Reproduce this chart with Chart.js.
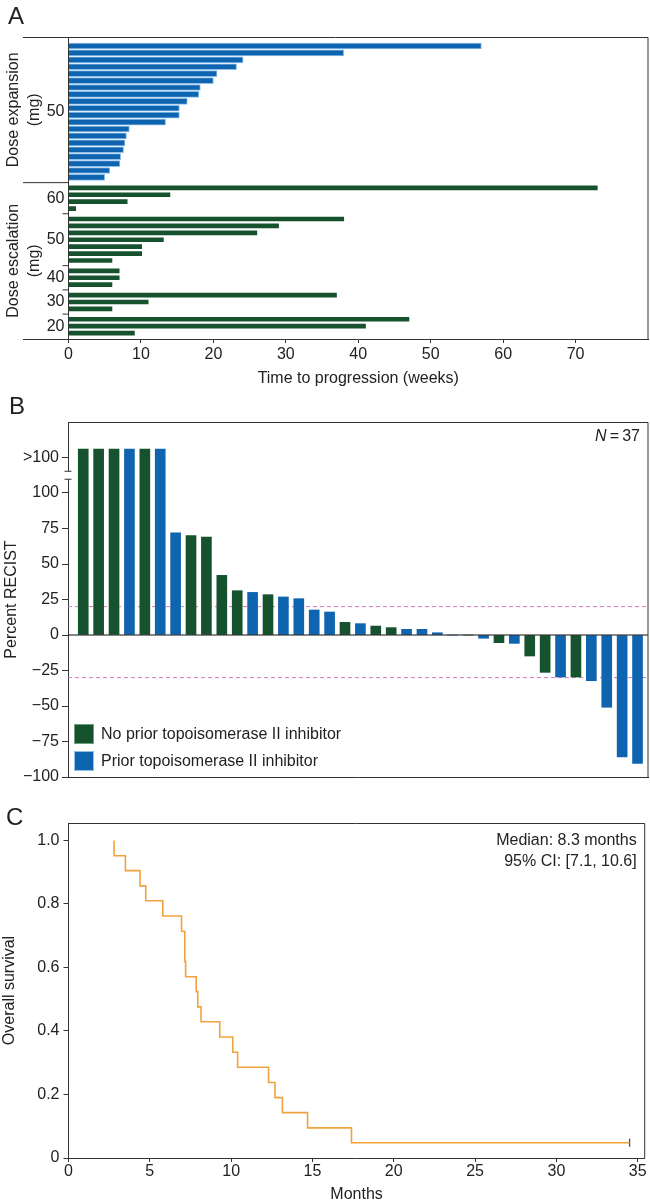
<!DOCTYPE html>
<html>
<head>
<meta charset="utf-8">
<title>Time to progression, RECIST change and overall survival</title>
<script src="https://cdn.jsdelivr.net/npm/chart.js@4.4.1/dist/chart.umd.min.js"></script>
<style>
  html, body { margin: 0; padding: 0; background: #fff; }
  body { position: relative; width: 650px; height: 1204px; overflow: hidden;
         font-family: "Liberation Sans", Arial, Helvetica, sans-serif; color: #222; }
  .panel { position: absolute; left: 0; }
  canvas { display: block; }
  .letter { position: absolute; font-size: 24px; line-height: 24px; }
</style>
</head>
<body>
<div class="panel" style="top:0"><canvas id="chartA" width="650" height="395"></canvas></div>
<div class="panel" style="top:395px"><canvas id="chartB" width="650" height="400"></canvas></div>
<div class="panel" style="top:795px"><canvas id="chartC" width="650" height="409"></canvas></div>
<div class="letter" style="left:8px;top:4px">A</div>
<div class="letter" style="left:9px;top:394px">B</div>
<div class="letter" style="left:6px;top:805px">C</div>
<script>
// ---- panel A: time to progression (weeks) by dose ----
const expansionDose = 50;
const expansionWeeks = [57, 38, 24.1, 23.2, 20.5, 20, 18.2, 18, 16.4, 15.3, 15.3, 13.4, 8.4, 8, 7.8, 7.6, 7.2, 7.1, 5.7, 5];
const escalationDoses = [60, 50, 40, 30, 20];
const escalationWeeks = [
  [73, 14, 8.1, 1],
  [38, 29, 26, 13.1, 10.1, 10.1, 6],
  [7, 7, 6],
  [37, 11, 6],
  [47, 41, 9.1]
];
const weekTicks = [0, 10, 20, 30, 40, 50, 60, 70];

// ---- panel B: best change in tumour size (percent RECIST) ----
const recistChange = ['>100', '>100', '>100', '>100', '>100', '>100', 72, 70, 69, 42, 31.2, 30, 28.4, 26.8, 25.6, 17.6, 16.2,
  8.9, 8, 6.3, 5.2, 4, 4, 1.6, 0, 0, -2.3, -5.4, -5.9, -14.8, -26.3, -29.6, -29.6, -32.2, -50.9, -85.9, -90.4];
const priorTopo = [0, 0, 0, 1, 0, 1, 1, 0, 0, 0, 0, 1, 0, 1, 1, 1, 1, 0, 1, 0, 0, 1, 1, 1, 1, 0,
  1, 0, 1, 0, 0, 1, 0, 1, 1, 1, 1];
const recistTicks = [-100, -75, -50, -25, 0, 25, 50, 75, 100];
const recistCutoffs = [20, -30];

// ---- panel C: overall survival (Kaplan-Meier) ----
const osMonths = [2.8, 2.8, 3.5, 4.4, 4.75, 5.8, 6.95, 7.15, 7.2, 7.85, 7.95, 8.15, 9.3, 10.1, 10.4, 12.3, 12.7, 13.15, 14.7, 17.4, 34.5];
const osSurvival = [1.0, 0.952, 0.905, 0.857, 0.81, 0.762, 0.714, 0.619, 0.571, 0.524, 0.476, 0.429, 0.381, 0.333, 0.286, 0.238, 0.19, 0.143, 0.095, 0.048, 0.048];
const censorMonths = [34.5];
const censorSurvival = [0.048];
const monthTicks = [0, 5, 10, 15, 20, 25, 30, 35];
const survivalTicks = [0, 0.2, 0.4, 0.6, 0.8, 1.0];

const FONT = '"Liberation Sans", Arial, Helvetica, sans-serif';
const INK = '#222';
const AXIS = '#333';
const BLUE = '#0f64b0', BLUE_EDGE = '#8fc0ea';
const GREEN = '#17522e';
const PINK = '#d67ac4';
const ORANGE = '#f2a23c';

Chart.defaults.font.family = FONT;
Chart.defaults.font.size = 16;
Chart.defaults.color = INK;
Chart.defaults.animation = false;
Chart.defaults.plugins.legend.display = false;
Chart.defaults.plugins.tooltip.enabled = false;

// ================= A =================
// rows are stacked top-down, with a half-row gap between dose groups
const GROUP_GAP = 0.5;
const groupsA = [{ dose: expansionDose, weeks: expansionWeeks, phase: 'expansion' }]
  .concat(escalationDoses.map((d, i) => ({ dose: d, weeks: escalationWeeks[i], phase: 'escalation' })));
const barsA = { expansion: [], escalation: [] };
const centersA = [];
const boundsA = [];
let row = 0;
groupsA.forEach((g, gi) => {
  const first = row + gi * GROUP_GAP;
  g.weeks.forEach((w, k) => barsA[g.phase].push({ x: w, y: first + k }));
  const last = first + g.weeks.length - 1;
  centersA.push({ value: (first + last) / 2, label: String(g.dose) });
  if (gi > 0) boundsA.push(first - (1 + GROUP_GAP) / 2);
  row += g.weeks.length;
});
const lastRowA = row - 1 + (groupsA.length - 1) * GROUP_GAP;

const frameA = {
  id: 'frameA',
  afterDraw(chart) {
    const { ctx, chartArea: a, scales: { y } } = chart;
    const outer = 23;
    const sep = y.getPixelForValue(boundsA[0]);
    ctx.save();
    ctx.strokeStyle = AXIS;
    ctx.lineWidth = 1;
    ctx.beginPath();
    ctx.moveTo(outer, a.top + 0.5); ctx.lineTo(a.right, a.top + 0.5); ctx.lineTo(a.right, a.bottom);
    ctx.moveTo(outer, a.bottom + 0.5); ctx.lineTo(a.left, a.bottom + 0.5);
    ctx.moveTo(outer, sep); ctx.lineTo(a.left, sep);
    boundsA.slice(1).forEach(b => {
      const p = y.getPixelForValue(b);
      ctx.moveTo(a.left - 6, p); ctx.lineTo(a.left, p);
    });
    ctx.stroke();
    ctx.fillStyle = INK;
    ctx.font = '16px ' + FONT;
    ctx.textAlign = 'center';
    ctx.textBaseline = 'middle';
    [[a.top, sep, 'Dose expansion'], [sep, a.bottom, 'Dose escalation']].forEach(([t, b, txt]) => {
      ctx.save();
      ctx.translate(14, (t + b) / 2);
      ctx.rotate(-Math.PI / 2);
      ctx.fillText(txt, 0, 0);
      ctx.fillText('(mg)', 0, 21);
      ctx.restore();
    });
    ctx.restore();
  }
};

new Chart(document.getElementById('chartA'), {
  type: 'bar',
  data: {
    datasets: [
      { label: 'Dose expansion', data: barsA.expansion, backgroundColor: BLUE, borderColor: BLUE_EDGE,
        borderWidth: 1, barThickness: 6, grouped: false },
      { label: 'Dose escalation', data: barsA.escalation, backgroundColor: GREEN,
        borderWidth: 0, barThickness: 4, grouped: false }
    ]
  },
  options: {
    indexAxis: 'y',
    responsive: false,
    layout: { padding: { top: 37, right: 2, left: 0, bottom: 0 } },
    scales: {
      x: {
        type: 'linear', min: 0, max: 80,
        afterFit: s => { s.height = 56; },
        afterBuildTicks: s => { s.ticks = weekTicks.map(v => ({ value: v })); },
        grid: { drawOnChartArea: false, tickLength: 4, tickColor: AXIS },
        border: { color: AXIS },
        ticks: { padding: 2, autoSkip: false },
        title: { display: true, text: 'Time to progression (weeks)', padding: { top: 0, bottom: 7 } }
      },
      y: {
        type: 'linear', reverse: true, offset: false, min: -1.3, max: lastRowA + 0.85,
        afterFit: s => { s.width = 68.5; },
        afterBuildTicks: s => { s.ticks = centersA.map(c => ({ value: c.value })); },
        ticks: {
          padding: 4, autoSkip: false,
          callback: v => { const c = centersA.find(c => Math.abs(c.value - v) < 1e-6); return c ? c.label : ''; }
        },
        grid: { display: false, drawTicks: false, tickLength: 0 },
        border: { color: AXIS }
      }
    }
  },
  plugins: [frameA]
});

// ================= B =================
const OVER_BAR = 131;   // drawn height of the ">100" bars
const OVER_TICK = 125;  // where the ">100" label sits above the axis break
const X_MIN_B = -0.99, X_MAX_B = 36.68;
const recistPlot = recistChange.map(v => v === '>100' ? OVER_BAR : v);
const noPrior = [], prior = [];
recistPlot.forEach((v, i) => (priorTopo[i] ? prior : noPrior).push({ x: i, y: v }));

const decorB = {
  id: 'decorB',
  afterDraw(chart) {
    const { ctx, chartArea: a, scales: { y } } = chart;
    ctx.save();
    ctx.strokeStyle = AXIS;
    ctx.lineWidth = 1;
    ctx.beginPath();
    ctx.moveTo(a.left, a.top + 0.5); ctx.lineTo(a.right, a.top + 0.5); ctx.lineTo(a.right, a.bottom);
    ctx.stroke();
    // axis break between 100 and ">100"
    const mid = (y.getPixelForValue(100) + y.getPixelForValue(OVER_TICK)) / 2;
    ctx.fillStyle = '#fff';
    ctx.fillRect(a.left - 2, mid - 4, 4, 8);
    ctx.beginPath();
    ctx.moveTo(a.left - 3.5, mid - 4); ctx.lineTo(a.left + 3.5, mid - 4);
    ctx.moveTo(a.left - 3.5, mid + 4); ctx.lineTo(a.left + 3.5, mid + 4);
    ctx.stroke();
    // legend
    const ds = chart.data.datasets;
    ctx.font = '16px ' + FONT;
    ctx.textBaseline = 'middle';
    ctx.textAlign = 'left';
    [[ds[0], a.bottom - 53], [ds[1], a.bottom - 26]].forEach(([d, top]) => {
      ctx.fillStyle = d.backgroundColor;
      ctx.fillRect(a.left + 6, top, 20, 20);
      ctx.strokeStyle = d.legendEdge;
      ctx.strokeRect(a.left + 6.5, top + 0.5, 19, 19);
      ctx.fillStyle = INK;
      ctx.fillText(d.label, a.left + 33, top + 10.5);
    });
    // N = 37
    const rest = '\u2009=\u2009' + recistChange.length;
    const wRest = ctx.measureText(rest).width;
    ctx.textAlign = 'right';
    ctx.fillText(rest, a.right - 8, a.top + 15);
    ctx.font = 'italic 16px ' + FONT;
    ctx.fillText('N', a.right - 8 - wRest, a.top + 15);
    ctx.restore();
  }
};

new Chart(document.getElementById('chartB'), {
  type: 'bar',
  data: {
    datasets: [
      { label: 'No prior topoisomerase II inhibitor', data: noPrior, backgroundColor: GREEN, legendEdge: '#6f9f80',
        borderWidth: 0, barThickness: 10, grouped: false, order: 2 },
      { label: 'Prior topoisomerase II inhibitor', data: prior, backgroundColor: BLUE, legendEdge: '#8fc0ea',
        borderWidth: 0, barThickness: 10, grouped: false, order: 2 },
      ...recistCutoffs.map(c => ({
        type: 'line', label: 'cutoff ' + c, data: [{ x: X_MIN_B, y: c }, { x: X_MAX_B, y: c }],
        borderColor: PINK, borderWidth: 1, borderDash: [4, 3], pointRadius: 0, order: 3
      })),
      { type: 'line', label: 'zero', data: [{ x: X_MIN_B, y: 0 }, { x: X_MAX_B, y: 0 }],
        borderColor: '#111', borderWidth: 1.2, pointRadius: 0, order: 0 }
    ]
  },
  options: {
    responsive: false,
    layout: { padding: { top: 27, right: 2, left: 0, bottom: 0 } },
    scales: {
      x: {
        type: 'linear', offset: false, min: X_MIN_B, max: X_MAX_B,
        afterFit: s => { s.height = 18; },
        ticks: { display: false },
        grid: { display: false, drawTicks: false },
        border: { color: AXIS }
      },
      y: {
        type: 'linear', min: -100, max: 150,
        afterFit: s => { s.width = 68; },
        afterBuildTicks: s => { s.ticks = recistTicks.concat([OVER_TICK]).map(v => ({ value: v })); },
        ticks: {
          padding: 3, autoSkip: false,
          callback: v => v === OVER_TICK ? '>100' : (v < 0 ? '\u2212' + (-v) : String(v))
        },
        grid: { drawOnChartArea: false, tickLength: 6, tickColor: AXIS },
        border: { color: AXIS },
        title: { display: true, text: 'Percent RECIST', padding: { top: 2, bottom: 0 } }
      }
    }
  },
  plugins: [decorB]
});

// ================= C =================
const X_MAX_C = 35.43, Y_MAX_C = 1.055;

const decorC = {
  id: 'decorC',
  afterDraw(chart) {
    const { ctx, chartArea: a } = chart;
    ctx.save();
    ctx.strokeStyle = AXIS;
    ctx.lineWidth = 1;
    ctx.beginPath();
    ctx.moveTo(a.left, a.top + 0.5); ctx.lineTo(a.right, a.top + 0.5); ctx.lineTo(a.right, a.bottom);
    ctx.stroke();
    ctx.fillStyle = INK;
    ctx.font = '16px ' + FONT;
    ctx.textAlign = 'right';
    ctx.textBaseline = 'middle';
    ctx.fillText('Median: 8.3 months', a.right - 8, a.top + 18);
    ctx.fillText('95% CI: [7.1, 10.6]', a.right - 8, a.top + 39);
    ctx.restore();
  }
};

new Chart(document.getElementById('chartC'), {
  type: 'line',
  data: {
    datasets: [
      { label: 'Overall survival', data: osMonths.map((m, i) => ({ x: m, y: osSurvival[i] })),
        stepped: 'before', borderColor: ORANGE, borderWidth: 1.6, pointRadius: 0, fill: false },
      { label: 'Censored', data: censorMonths.map((m, i) => ({ x: m, y: censorSurvival[i] })),
        showLine: false, pointStyle: 'line', pointRotation: 90, pointRadius: 4,
        pointBorderColor: '#5a4630', pointBorderWidth: 1.3 }
    ]
  },
  options: {
    responsive: false,
    layout: { padding: { top: 28, right: 2, left: 0, bottom: 0 } },
    scales: {
      x: {
        type: 'linear', min: 0, max: X_MAX_C,
        afterFit: s => { s.height = 46; },
        afterBuildTicks: s => { s.ticks = monthTicks.map(v => ({ value: v })); },
        grid: { drawOnChartArea: false, tickLength: 4, tickColor: AXIS },
        border: { color: AXIS },
        ticks: { padding: 0, autoSkip: false },
        title: { display: true, text: 'Months', padding: { top: 0, bottom: 0 } }
      },
      y: {
        type: 'linear', min: 0, max: Y_MAX_C,
        afterFit: s => { s.width = 68.5; },
        afterBuildTicks: s => { s.ticks = survivalTicks.map(v => ({ value: v })); },
        grid: { drawOnChartArea: false, tickLength: 5, tickColor: AXIS },
        border: { color: AXIS },
        ticks: { padding: 4, autoSkip: false, callback: v => v === 0 ? '0' : v.toFixed(1) },
        title: { display: true, text: 'Overall survival', padding: { top: 0, bottom: 0 } }
      }
    }
  },
  plugins: [decorC]
});
</script>
</body>
</html>
